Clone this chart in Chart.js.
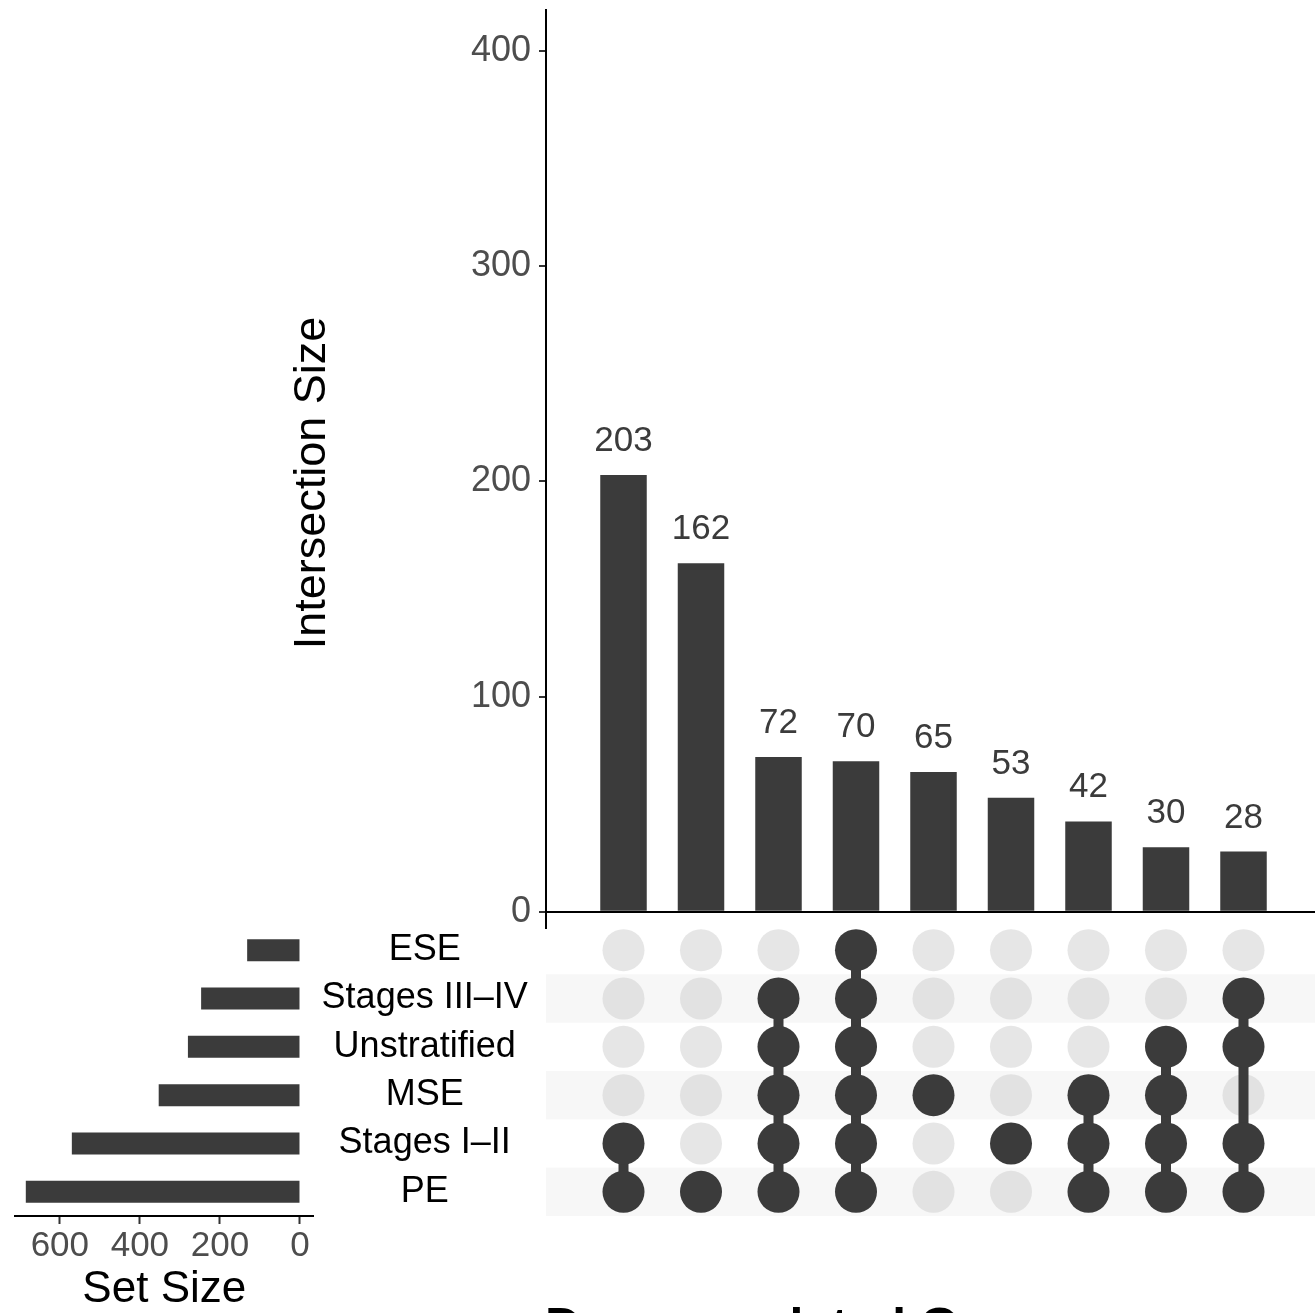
<!DOCTYPE html>
<html lang="en">
<head>
    <meta charset="UTF-8">
    <title>UpSet plot - Downregulated Genes</title>
    <script src="https://cdn.jsdelivr.net/npm/chart.js"></script>
    <style>
        html, body { margin: 0; padding: 0; background: #fff; overflow: hidden; }
        body { position: relative; width: 1315px; height: 1313px; }
        canvas { position: absolute; }
        #bars { left: 0; top: -30px; }
        #matrix { left: 546px; top: 926px; }
        #sets { left: 0; top: 896px; }
        .main-title {
            position: absolute; left: 545px; top: 1301px;
            font: bold 50px "Liberation Sans", Arial, sans-serif; line-height: 1;
            color: #000; white-space: nowrap;
        }
    </style>
</head>
<body>
    <canvas id="bars" width="1330" height="998"></canvas>
    <canvas id="matrix" width="784" height="290"></canvas>
    <canvas id="sets" width="546" height="417"></canvas>
    <div class="main-title">Downregulated Genes</div>

    <script>
        // set names, top row first
        const setNames = ['ESE', 'Stages III–IV', 'Unstratified', 'MSE', 'Stages I–II', 'PE'];
        const setSizes = [132, 247, 280, 353, 570, 685];

        // intersections, left to right
        const intersectionSizes = [203, 162, 72, 70, 65, 53, 42, 30, 28];
        const intersectionSets = [
            ['Stages I–II', 'PE'],
            ['PE'],
            ['Stages III–IV', 'Unstratified', 'MSE', 'Stages I–II', 'PE'],
            ['ESE', 'Stages III–IV', 'Unstratified', 'MSE', 'Stages I–II', 'PE'],
            ['MSE'],
            ['Stages I–II'],
            ['MSE', 'Stages I–II', 'PE'],
            ['Unstratified', 'MSE', 'Stages I–II', 'PE'],
            ['Stages III–IV', 'Unstratified', 'Stages I–II', 'PE']
        ];

        const sizeTicks = [0, 100, 200, 300, 400];
        const setSizeTicks = [0, 200, 400, 600];

        const FONT = '"Liberation Sans", Arial, Helvetica, sans-serif';
        const DARK = '#3b3b3b';
        Chart.defaults.font.family = FONT;

        // numbers above the intersection bars + y axis title
        const barLabels = {
            id: 'barLabels',
            afterDatasetsDraw(chart) {
                const ctx = chart.ctx;
                const meta = chart.getDatasetMeta(0);
                ctx.save();
                ctx.font = '35px ' + FONT;
                ctx.fillStyle = DARK;
                ctx.textAlign = 'center';
                ctx.textBaseline = 'alphabetic';
                meta.data.forEach((bar, i) => {
                    ctx.fillText(intersectionSizes[i], bar.x, bar.y - 24);
                });
                ctx.restore();
            },
            afterDraw(chart) {
                // canvas sits 30px above the page top
                const ctx = chart.ctx;
                ctx.save();
                ctx.translate(325, 483 + 30);
                ctx.rotate(-Math.PI / 2);
                ctx.font = '45px ' + FONT;
                ctx.fillStyle = '#000';
                ctx.textAlign = 'center';
                ctx.textBaseline = 'alphabetic';
                ctx.fillText('Intersection Size', 0, 0);
                ctx.restore();
            }
        };

        new Chart(document.getElementById('bars'), {
            type: 'bar',
            data: {
                datasets: [{
                    data: intersectionSizes.map((v, i) => ({ x: i + 1, y: v })),
                    backgroundColor: DARK,
                    barPercentage: 0.6,
                    categoryPercentage: 1
                }]
            },
            options: {
                responsive: false,
                animation: false,
                layout: { autoPadding: false, padding: { top: 40, bottom: 40, left: 0, right: 9 } },
                plugins: { legend: { display: false }, tooltip: { enabled: false } },
                scales: {
                    x: { type: 'linear', min: 0, max: 10, offset: false, display: false, ticks: { stepSize: 1 } },
                    y: {
                        min: -7.5,
                        max: 419,
                        afterBuildTicks: s => { s.ticks = sizeTicks.map(v => ({ value: v })); },
                        afterFit: s => { s.width = 546; },
                        border: { display: true, color: '#000', width: 2 },
                        grid: {
                            color: c => (c.tick && c.tick.value === 0) ? '#000' : 'transparent',
                            lineWidth: 2,
                            tickColor: '#333',
                            tickWidth: 2,
                            tickLength: 7
                        },
                        ticks: { font: { size: 36 }, color: '#4d4d4d', padding: 8 }
                    }
                }
            },
            plugins: [barLabels]
        });

        // matrix of dots
        const onDots = [], offDots = [], links = [];
        intersectionSets.forEach((members, c) => {
            const rows = [];
            setNames.forEach((name, r) => {
                if (members.includes(name)) { onDots.push({ x: c + 1, y: r }); rows.push(r); }
                else offDots.push({ x: c + 1, y: r });
            });
            if (rows.length > 1) {
                links.push({
                    data: [{ x: c + 1, y: Math.min(...rows) }, { x: c + 1, y: Math.max(...rows) }],
                    showLine: true, borderColor: DARK, borderWidth: 10, borderCapStyle: 'butt',
                    pointRadius: 0
                });
            }
        });

        const stripes = {
            id: 'stripes',
            beforeDatasetsDraw(chart) {
                const { ctx, chartArea } = chart;
                const y = chart.scales.y;
                ctx.save();
                ctx.fillStyle = '#f7f7f7';
                setNames.forEach((n, r) => {
                    if (r % 2 === 1) {
                        const a = y.getPixelForValue(r - 0.5), b = y.getPixelForValue(r + 0.5);
                        ctx.fillRect(chartArea.left, a, chartArea.right - chartArea.left, b - a);
                    }
                });
                ctx.restore();
            }
        };

        new Chart(document.getElementById('matrix'), {
            type: 'scatter',
            data: {
                datasets: [
                    { data: onDots, backgroundColor: DARK, pointRadius: 21, borderWidth: 0 },
                    ...links,
                    { data: offDots, backgroundColor: 'rgba(205,205,205,0.5)', pointRadius: 21, borderWidth: 0 }
                ]
            },
            options: {
                responsive: false,
                animation: false,
                layout: { autoPadding: false, padding: { top: 0, bottom: 0, left: 0, right: 9 } },
                plugins: { legend: { display: false }, tooltip: { enabled: false } },
                scales: {
                    x: { type: 'linear', min: 0, max: 10, display: false },
                    y: { type: 'linear', min: -0.5, max: 5.5, reverse: true, display: false }
                }
            },
            plugins: [stripes]
        });

        // set size bars on the left
        new Chart(document.getElementById('sets'), {
            type: 'bar',
            data: {
                labels: setNames,
                datasets: [{
                    data: setSizes,
                    backgroundColor: DARK,
                    barPercentage: 0.455,
                    categoryPercentage: 1
                }]
            },
            options: {
                indexAxis: 'y',
                responsive: false,
                animation: false,
                layout: { autoPadding: false, padding: { top: 30, bottom: 0, left: 15, right: 0 } },
                plugins: { legend: { display: false }, tooltip: { enabled: false } },
                scales: {
                    x: {
                        type: 'linear',
                        reverse: true,
                        min: -34,
                        max: 712,
                        afterBuildTicks: s => { s.ticks = setSizeTicks.map(v => ({ value: v })); },
                        afterFit: s => { s.height = 97; },
                        border: { display: true, color: '#000', width: 2 },
                        grid: { drawOnChartArea: false, tickColor: '#333', tickWidth: 2, tickLength: 8 },
                        ticks: { font: { size: 35 }, color: '#4d4d4d', padding: 1, maxRotation: 0 },
                        title: { display: true, text: 'Set Size', color: '#000', font: { size: 44 }, padding: { top: 0, bottom: -3 } }
                    },
                    y: {
                        position: 'right',
                        afterFit: s => { s.width = 232.4; },
                        grid: { display: false },
                        border: { display: false },
                        ticks: { crossAlign: 'center', padding: 0, color: '#000', font: { size: 36 } }
                    }
                }
            }
        });
    </script>
</body>
</html>
